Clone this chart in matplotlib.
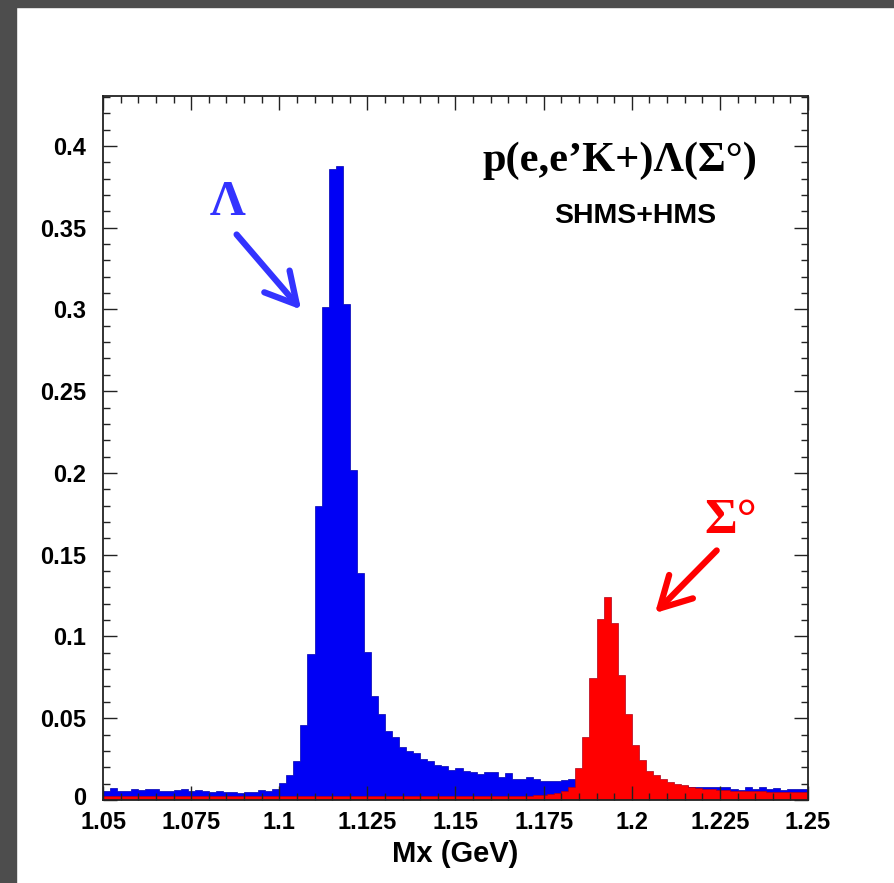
import numpy as np
import matplotlib
matplotlib.use("Agg")
import matplotlib.ticker as mtick
import matplotlib.transforms as mtrans
from matplotlib import pyplot as plt
from matplotlib.patches import Rectangle

# Missing-mass spectrum, 100 bins of 2 MeV between 1.05 and 1.25 GeV
mx_lo, mx_hi, n_bins = 1.05, 1.25, 100

lambda_counts = [
    0.0055, 0.0071, 0.0057, 0.0055, 0.0069, 0.0061, 0.0065, 0.0069, 0.0055, 0.0055,
    0.0061, 0.0065, 0.0057, 0.0059, 0.0057, 0.0047, 0.0057, 0.0047, 0.0051, 0.0045,
    0.0049, 0.0049, 0.0063, 0.0057, 0.0069, 0.0102, 0.0153, 0.0241, 0.0459, 0.0891,
    0.1795, 0.3013, 0.3860, 0.3880, 0.3034, 0.2020, 0.1387, 0.0904, 0.0636, 0.0526,
    0.0424, 0.0384, 0.0326, 0.0302, 0.0286, 0.0249, 0.0239, 0.0214, 0.0210, 0.0184,
    0.0198, 0.0179, 0.0169, 0.0159, 0.0171, 0.0171, 0.0143, 0.0167, 0.0127, 0.0130,
    0.0143, 0.0130, 0.0118, 0.0118, 0.0114, 0.0120, 0.0127, 0.0115, 0.0112, 0.0110,
    0.0110, 0.0105, 0.0105, 0.0100, 0.0100, 0.0098, 0.0095, 0.0093, 0.0090, 0.0090,
    0.0088, 0.0086, 0.0084, 0.0080, 0.0080, 0.0082, 0.0080, 0.0082, 0.0078, 0.0065,
    0.0061, 0.0082, 0.0065, 0.0082, 0.0065, 0.0075, 0.0061, 0.0067, 0.0069, 0.0067,
]

sigma_counts = [
    0.0025, 0.0026, 0.0025, 0.0024, 0.0025, 0.0026, 0.0025, 0.0025, 0.0024, 0.0025,
    0.0025, 0.0026, 0.0025, 0.0025, 0.0024, 0.0025, 0.0025, 0.0026, 0.0025, 0.0024,
    0.0025, 0.0025, 0.0026, 0.0025, 0.0025, 0.0024, 0.0025, 0.0025, 0.0026, 0.0025,
    0.0025, 0.0024, 0.0025, 0.0025, 0.0026, 0.0025, 0.0025, 0.0024, 0.0025, 0.0025,
    0.0026, 0.0025, 0.0025, 0.0024, 0.0025, 0.0025, 0.0026, 0.0025, 0.0025, 0.0025,
    0.0026, 0.0025, 0.0025, 0.0026, 0.0025, 0.0026, 0.0026, 0.0025, 0.0026, 0.0027,
    0.0027, 0.0028, 0.0030, 0.0035, 0.0040, 0.0055, 0.0080, 0.0194, 0.0384, 0.0749,
    0.1106, 0.1240, 0.1085, 0.0765, 0.0524, 0.0337, 0.0243, 0.0179, 0.0153, 0.0130,
    0.0111, 0.0097, 0.0093, 0.0081, 0.0071, 0.0067, 0.0065, 0.0061, 0.0061, 0.0057,
    0.0057, 0.0057, 0.0055, 0.0053, 0.0051, 0.0051, 0.0051, 0.0049, 0.0049, 0.0049,
]

x_ticks = [1.05, 1.075, 1.1, 1.125, 1.15, 1.175, 1.2, 1.225, 1.25]
x_tick_labels = ["1.05", "1.075", "1.1", "1.125", "1.15", "1.175", "1.2", "1.225", "1.25"]
y_ticks = [0, 0.05, 0.1, 0.15, 0.2, 0.25, 0.3, 0.35, 0.4]
y_tick_labels = ["0", "0.05", "0.1", "0.15", "0.2", "0.25", "0.3", "0.35", "0.4"]

sans = "Liberation Sans"
serif = "Liberation Serif"

fig = plt.figure(figsize=(8.95, 8.83), dpi=100)

# dark canvas frame on the left and top
fig.patches.append(Rectangle((0, 0), 16 / 895, 1, transform=fig.transFigure,
                             color="#4d4d4d", zorder=-10))
fig.patches.append(Rectangle((0, 1 - 7 / 883), 1, 7 / 883, transform=fig.transFigure,
                             color="#4d4d4d", zorder=-10))

ax = fig.add_axes([103 / 895, 83 / 883, 705 / 895, 704 / 883])

edges = np.linspace(mx_lo, mx_hi, n_bins + 1)
ax.stairs(lambda_counts, edges, fill=True, facecolor="#0000f5",
          edgecolor="#0000b0", lw=0.5, baseline=0)
ax.stairs(sigma_counts, edges, fill=True, facecolor="#ff0000",
          edgecolor="#b00018", lw=0.5, baseline=0)

ax.set_xlim(mx_lo, mx_hi)
ax.set_ylim(0, 0.4305)

ax.set_xticks(x_ticks, x_tick_labels)
ax.set_yticks(y_ticks, y_tick_labels)
ax.xaxis.set_minor_locator(mtick.MultipleLocator(0.005))
ax.yaxis.set_minor_locator(mtick.MultipleLocator(0.01))
ax.tick_params(which="both", direction="in", top=True, right=True,
               color="#222222", width=1.0)
ax.tick_params(which="major", length=10)
ax.tick_params(which="minor", length=5)
ax.tick_params(axis="x", which="major", pad=8)
ax.tick_params(axis="y", which="major", pad=12)
for lab in ax.get_xticklabels() + ax.get_yticklabels():
    lab.set_fontfamily(sans)
    lab.set_fontweight("bold")
    lab.set_fontsize(17)

# nudge the "0" label up so it clears the first x label
zero_lab = ax.yaxis.get_major_ticks()[0].label1
zero_lab.set_transform(zero_lab.get_transform()
                       + mtrans.ScaledTranslation(0, 4 / 100, fig.dpi_scale_trans))

for side in ax.spines.values():
    side.set_linewidth(1.3)
    side.set_color("#222222")

ax.set_xlabel("Mx (GeV)", fontfamily=sans, fontweight="bold", fontsize=21, labelpad=4)

ax.text(1.1967, 0.3845, "p(e,e’K+)Λ(Σ°)", ha="center", va="baseline",
        fontfamily=serif, fontweight="bold", fontsize=30.5)
ax.text(1.2011, 0.3529, "SHMS+HMS", ha="center", va="baseline",
        fontfamily=sans, fontweight="bold", fontsize=20.5)

# peak labels with arrows
ax.text(1.0853, 0.358, "Λ", ha="center", va="baseline", color="#3333ff",
        fontfamily=serif, fontweight="bold", fontsize=36)
ax.annotate("", xy=(1.1062, 0.2999), xytext=(1.0879, 0.3458),
            arrowprops=dict(arrowstyle="->,head_length=0.55,head_width=0.3",
                            lw=4.5, color="#3333ff", mutation_scale=40,
                            shrinkA=0, shrinkB=0))
ax.text(1.2282, 0.1634, "Σ°", ha="center", va="baseline", color="#ff0000",
        fontfamily=serif, fontweight="bold", fontsize=36)
ax.annotate("", xy=(1.2066, 0.1143), xytext=(1.2241, 0.1526),
            arrowprops=dict(arrowstyle="->,head_length=0.55,head_width=0.3",
                            lw=4.5, color="#ff0000", mutation_scale=40,
                            shrinkA=0, shrinkB=0))

fig.savefig("out.png", dpi=100)
